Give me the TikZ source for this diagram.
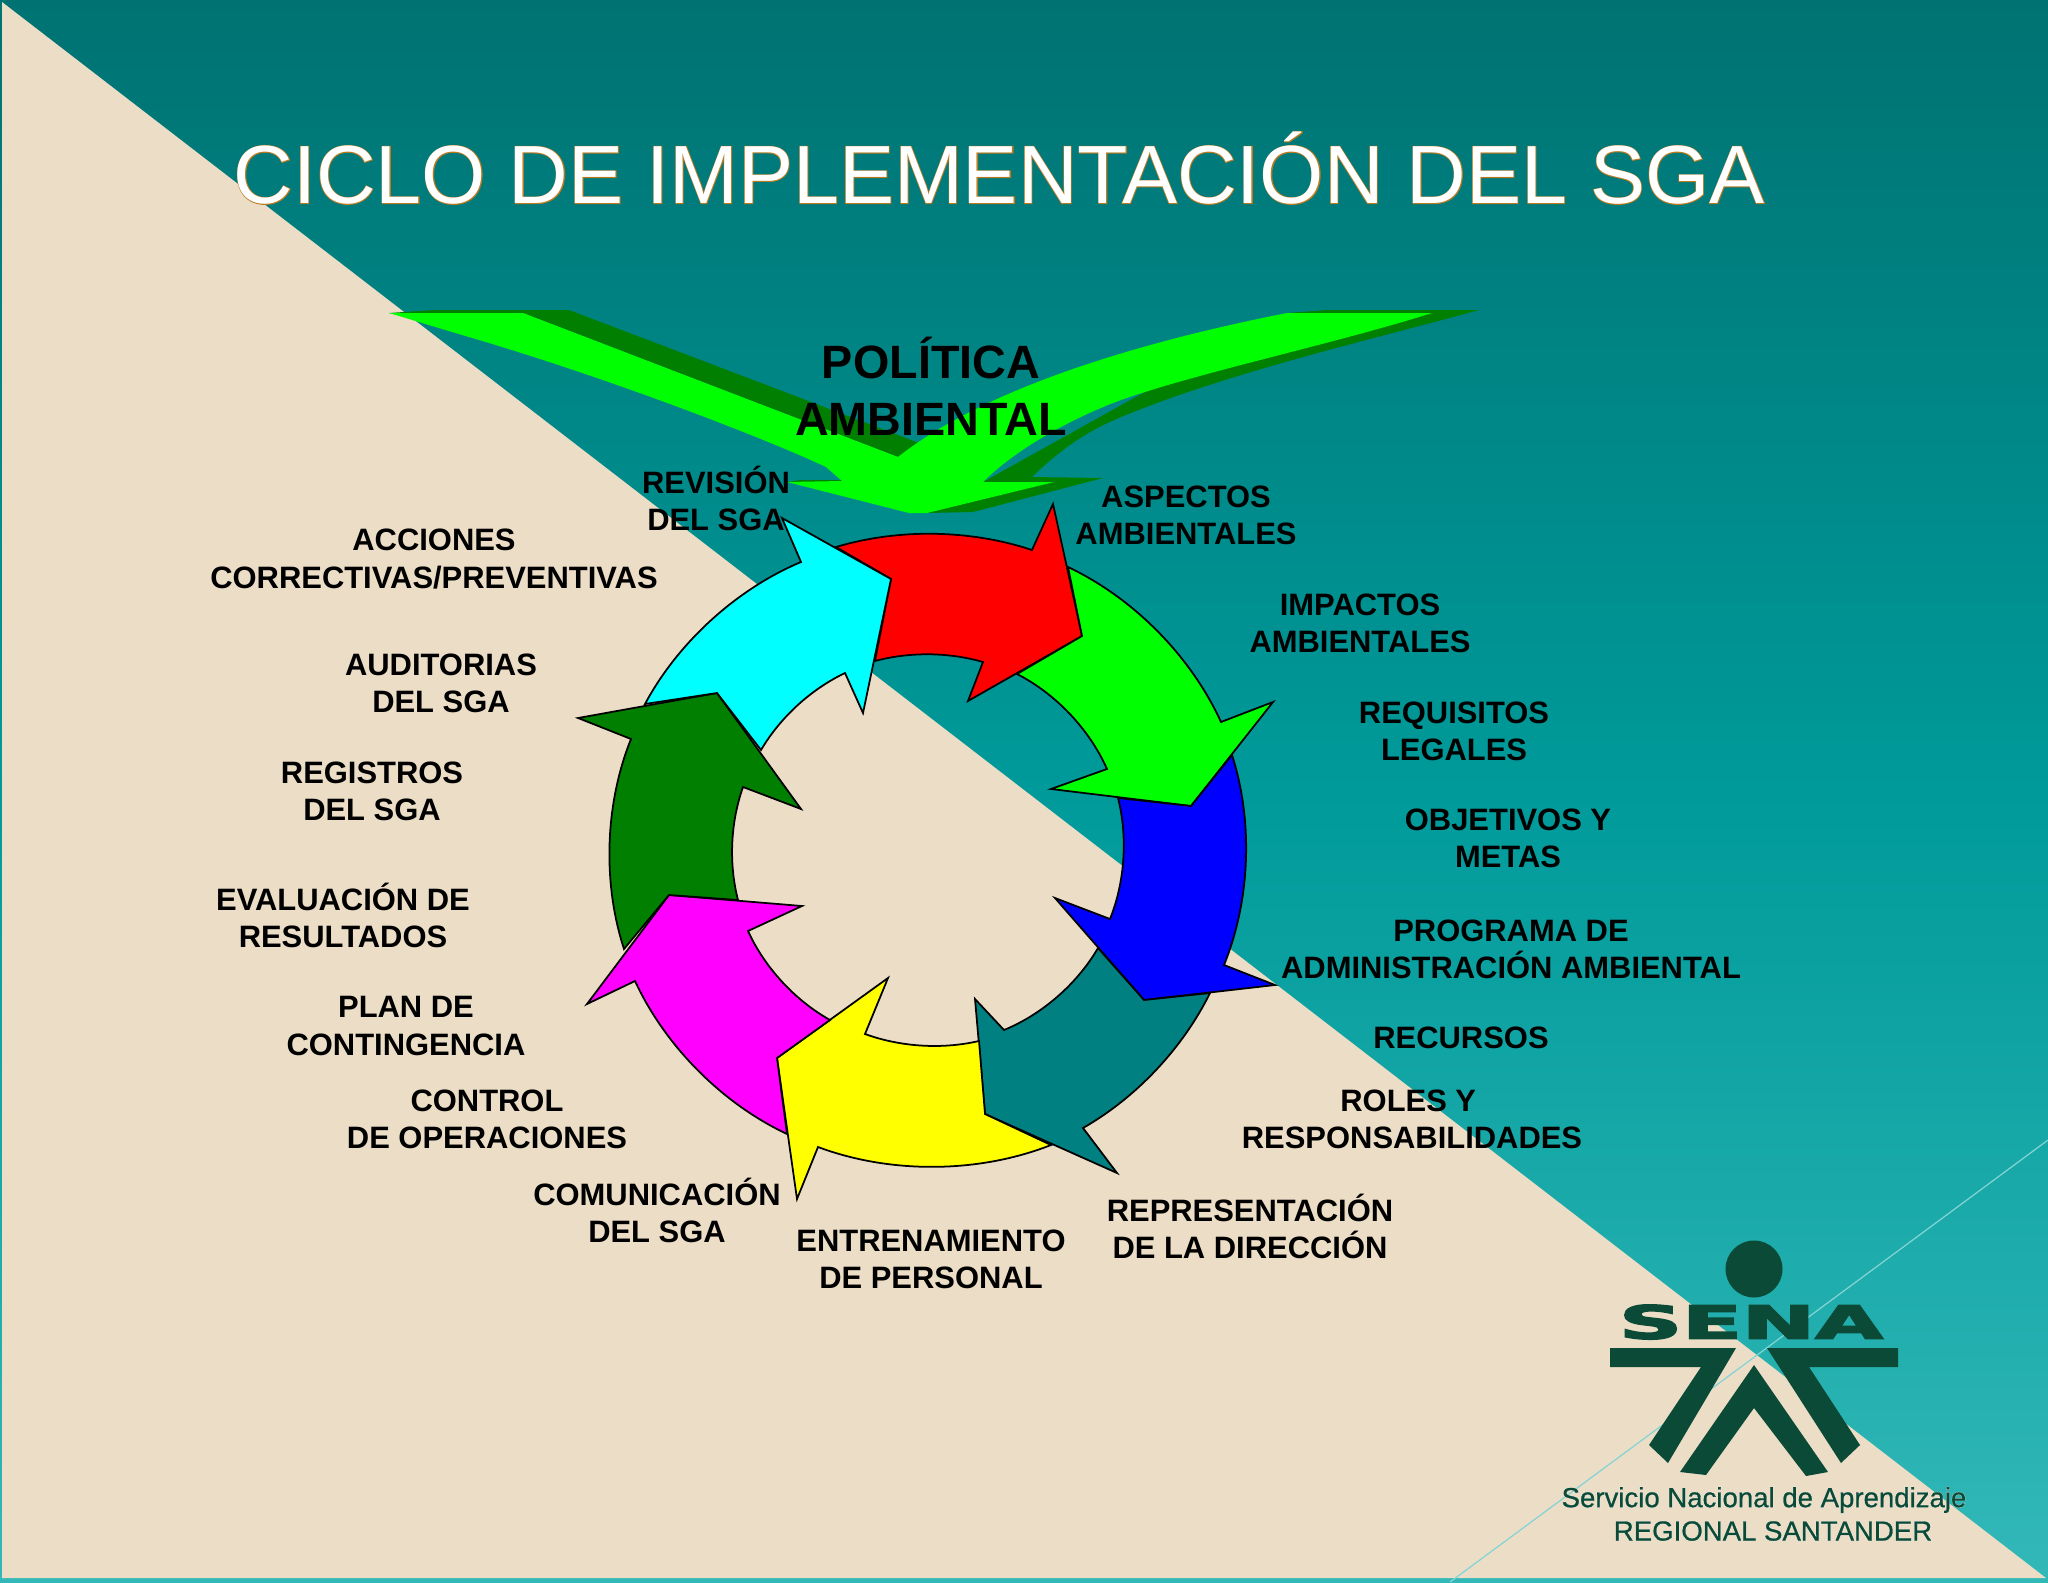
\documentclass[tikz,border=0pt]{standalone}
\usepackage{fontspec}
\setmainfont{Liberation Sans}
\newfontfamily\fuenteborde[FakeBold=1.7]{Liberation Sans}
\newfontfamily\fuentesena[FakeBold=3]{DejaVu Sans Bold}
\newfontfamily\fuentelogo[FakeBold=1]{Liberation Sans}
\newfontfamily\fuentehalo[FakeBold=2.6]{Liberation Sans}
\definecolor{fondoA}{HTML}{007272}
\definecolor{fondoB}{HTML}{009A9A}
\definecolor{fondoC}{HTML}{33B8B8}
\definecolor{beige}{HTML}{ECDDC6}
\definecolor{borde}{HTML}{B87A20}
\definecolor{senaverde}{HTML}{0B4A36}
\definecolor{lima}{HTML}{00FF00}
\definecolor{limaosc}{HTML}{007F00}
\definecolor{tealf}{HTML}{008080}
\definecolor{rojo}{HTML}{FF0000}
\definecolor{azul}{HTML}{0000FF}
\definecolor{amarillo}{HTML}{FFFF00}
\definecolor{fucsia}{HTML}{FF00FF}
\definecolor{cian}{HTML}{00FFFF}
\tikzset{
  etiqueta/.style={font=\fontsize{17.6}{21.1}\selectfont\bfseries,align=center,text=black,inner sep=0pt},
  flecha/.style={draw=black,line width=1pt,line join=miter,miter limit=10},
  arcoext/.style={bend left=#1,looseness=0.85},
  arcoint/.style={bend right=#1,looseness=0.85},
  sena/.style={fill=senaverde,draw=none},
  textologo/.style={inner sep=0pt,font=\fontsize{15.7}{18}\selectfont}
}
\begin{document}
\begin{tikzpicture}[x=0.02cm,y=-0.02cm]
\useasboundingbox (0,0) rectangle (2048,1582);
% fondo
\shade[top color=fondoA,bottom color=fondoC,middle color=fondoB] (0,0) rectangle (2048,1582);
\fill[beige] (2,2) -- (2046,1578) -- (2,1578) -- cycle;
\draw[color=fondoC!60!white,line width=0.7pt] (1450,1582) -- (2048,1140);
% titulo
\node (tituloborde) [font=\fontsize{47}{50}\selectfont\fuenteborde,text=borde,inner sep=0pt] at (999,168) {CICLO DE IMPLEMENTACIÓN DEL SGA};
\node (titulo) [font=\fontsize{47}{50}\selectfont,text=white,inner sep=0pt] at (999,168) {CICLO DE IMPLEMENTACIÓN DEL SGA};
% flecha grande
\fill[limaosc] (389,313) -- (434,310) -- (569,310) -- (919,443) -- (898,457) -- (523,313) -- cycle;
\fill[limaosc] (1287,313) -- (1327,310) -- (1479,310)
  .. controls (1370,340) and (1230,372) .. (1121,417)
  .. controls (1085,432) and (1060,450) .. (1032,477)
  -- (1103,478) -- (973,512) -- (927,513) -- (983,482) -- cycle;
\fill[limaosc] (787,482) -- (801,480) -- (842,480) -- (842,482) -- cycle;
\fill[lima] (389,313) -- (523,313) -- (898,457)
  .. controls (970,400) and (1100,350) .. (1287,313)
  -- (1432,313) .. controls (1330,345) and (1200,372) .. (1121,400)
  .. controls (1080,415) and (1020,445) .. (983,482)
  -- (1054,482) -- (927,513) -- (909,513) -- (787,482) -- (842,481) -- (826,467)
  .. controls (760,436) and (600,375) .. (462,335) -- cycle;
\node (politica) [font=\fontsize{26.6}{32.4}\selectfont\bfseries,align=center,inner sep=0pt] at (931,386) {POLÍTICA\\AMBIENTAL};
% anillo
\draw[flecha,fill=rojo] (836,547) to[arcoext=17.5] (1032,550) -- (1053,504) -- (1082,636) -- (968,701) -- (983,662) to[arcoint=15.5] (875,661) -- (891,579) -- cycle;
\draw[flecha,fill=lima] (1068,567) to[arcoext=20] (1221,722) -- (1273,702) -- (1191,806) -- (1051,789) -- (1107,769) to[arcoint=19.5] (1017,674) -- (1082,636) -- cycle;
\draw[flecha,fill=azul] (1232,755) to[arcoext=20] (1224,965) -- (1275,985) -- (1144,1000) -- (1055,898) -- (1110,919) to[arcoint=18] (1118,798) -- (1191,806) -- cycle;
\draw[flecha,fill=tealf] (1210,993) to[arcoext=17] (1083,1128) -- (1117,1173) -- (985,1114) -- (975,999) -- (1004,1030) to[arcoint=18.7] (1098,948) -- (1144,1000) -- cycle;
\draw[flecha,fill=amarillo] (1051,1145) to[arcoext=21] (818,1147) -- (797,1199) -- (777,1058) -- (888,978) -- (865,1034) to[arcoint=16.5] (979,1041) -- (985,1114) -- cycle;
\draw[flecha,fill=fucsia] (787,1134) to[arcoext=20] (635,981) -- (587,1004) -- (669,895) -- (802,906) -- (748,931) to[arcoint=18] (830,1020) -- (777,1058) -- cycle;
\draw[flecha,fill=limaosc] (624,949) to[arcoext=20] (631,739) -- (578,718) -- (717,693) -- (801,809) -- (743,787) to[arcoint=17] (738,900) -- (669,895) -- cycle;
\draw[flecha,fill=cian] (645,704) to[arcoext=19.5] (801,562) -- (782,518) -- (891,579) -- (863,713) -- (845,673) to[arcoint=17] (761,750) -- (717,693) -- cycle;
% etiquetas
\node (revision) [etiqueta] at (716,498) {REVISIÓN\\DEL SGA};
\node (aspectos) [etiqueta] at (1186,515) {ASPECTOS\\AMBIENTALES};
\node (impactos) [etiqueta] at (1360,623) {IMPACTOS\\AMBIENTALES};
\node (requisitos) [etiqueta] at (1454,731) {REQUISITOS\\LEGALES};
\node (objetivos) [etiqueta] at (1508,838) {OBJETIVOS Y\\METAS};
\node (programa) [etiqueta] at (1511,949) {PROGRAMA DE\\ADMINISTRACIÓN AMBIENTAL};
\node (recursos) [etiqueta] at (1461,1038) {RECURSOS};
\node (roles) [etiqueta] at (1412,1119) {ROLES Y\hspace{0.15cm}\null\\RESPONSABILIDADES};
\node (representacion) [etiqueta] at (1250,1226) {REPRESENTACIÓN\\DE LA DIRECCIÓN};
\node (entrenamiento) [etiqueta] at (931,1259) {ENTRENAMIENTO\\DE PERSONAL};
\node (comunicacion) [etiqueta] at (657,1210) {COMUNICACIÓN\\DEL SGA};
\node (control) [etiqueta] at (487,1119) {CONTROL\\DE OPERACIONES};
\node (plan) [etiqueta] at (406,1026) {PLAN DE\\CONTINGENCIA};
\node (evaluacion) [etiqueta] at (343,915) {EVALUACIÓN DE\\RESULTADOS};
\node (registros) [etiqueta] at (372,791) {REGISTROS\\DEL SGA};
\node (auditorias) [etiqueta] at (441,683) {AUDITORIAS\\DEL SGA};
\node (acciones) [etiqueta] at (434,559) {ACCIONES\\CORRECTIVAS/PREVENTIVAS};
% logo
\fill[sena] (1754,1269) circle[radius=28.5];
\node (senatxt) [inner sep=0pt,text=senaverde] at (1751,1322) {\resizebox{5.28cm}{0.68cm}{\fuentesena SENA}};
\fill[sena] (1610,1348) -- (1736,1348) -- (1668,1463) -- (1649,1445) -- (1701,1367) -- (1610,1367) -- cycle;
\fill[sena] (1898,1348) -- (1767,1348) -- (1841,1463) -- (1860,1445) -- (1809,1367) -- (1898,1367) -- cycle;
\fill[sena] (1754,1365) -- (1828,1472) -- (1806,1476) -- (1754,1408) -- (1706,1475) -- (1680,1472) -- cycle;
\node (serviciohalo) [textologo,text=white] at (1764,1500) {\fuentehalo Servicio Nacional de Aprendizaje};
\node (servicio) [textologo,text=senaverde] at (1764,1500) {\fuentelogo Servicio Nacional de Aprendizaje};
\node (regionalhalo) [textologo,text=white] at (1773,1531) {\fuentehalo REGIONAL SANTANDER};
\node (regional) [textologo,text=senaverde] at (1773,1531) {\fuentelogo REGIONAL SANTANDER};
\end{tikzpicture}
\end{document}
